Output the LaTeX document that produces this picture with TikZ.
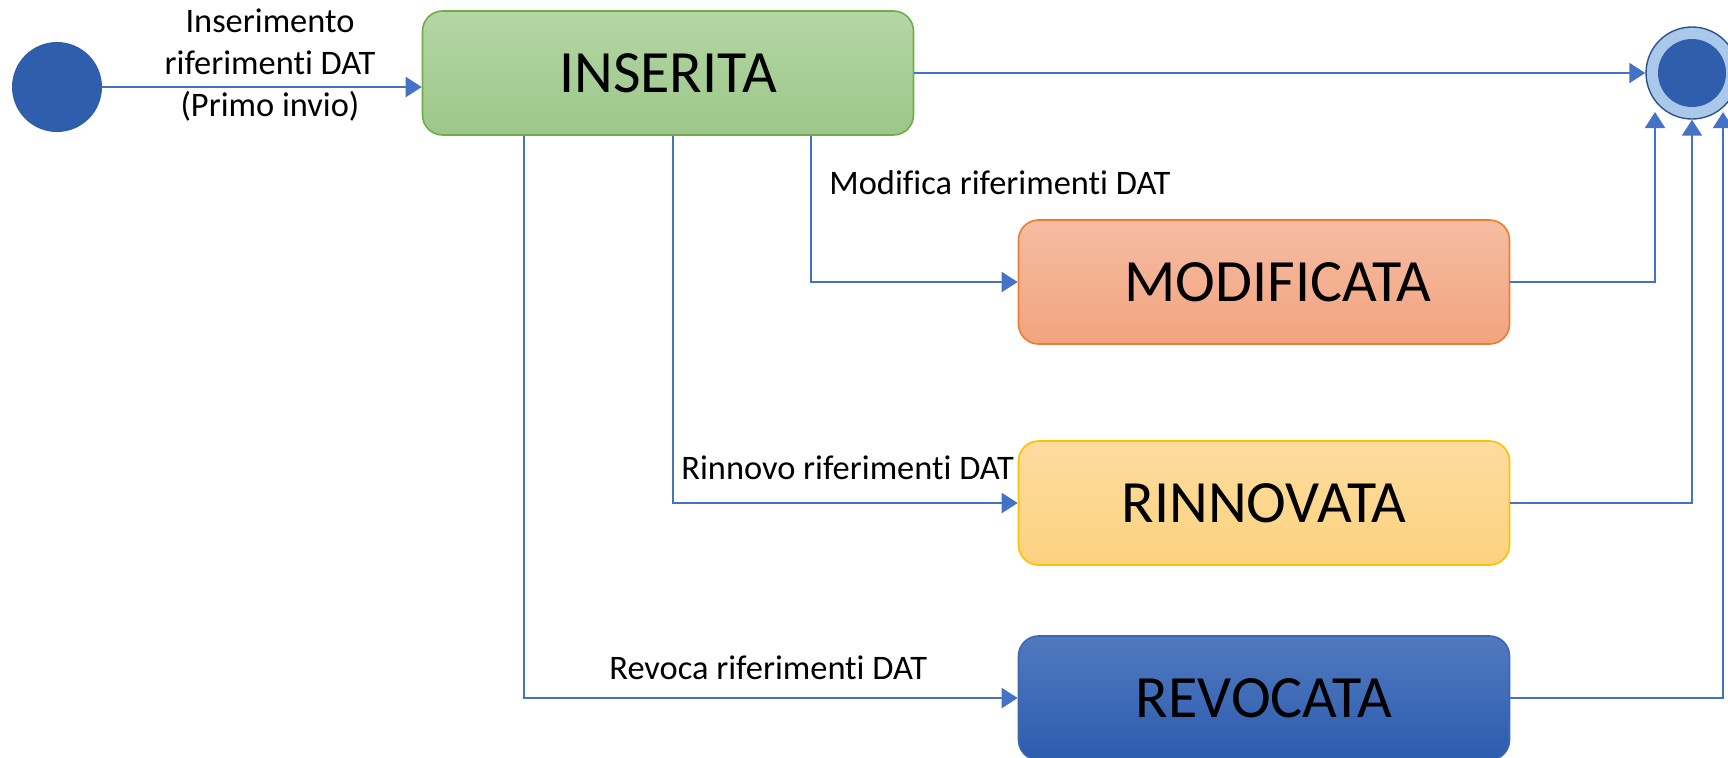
\documentclass[tikz,border=0pt]{standalone}
\usepackage{fontspec}
\setmainfont[Ligatures=NoCommon]{Carlito}
\usepackage{xcolor}
\usetikzlibrary{arrows.meta}

\definecolor{linea}{HTML}{4472C4}
\definecolor{avvio}{HTML}{2F5EAC}
\definecolor{verdesu}{HTML}{B4D6A4}
\definecolor{verdegiu}{HTML}{9CC78A}
\definecolor{verdebordo}{HTML}{70AD47}
\definecolor{arancsu}{HTML}{F5BCA3}
\definecolor{arancgiu}{HTML}{F2A47F}
\definecolor{arancbordo}{HTML}{ED7D31}
\definecolor{gialsu}{HTML}{FDDC9F}
\definecolor{gialgiu}{HTML}{FCD27F}
\definecolor{gialbordo}{HTML}{FFC000}
\definecolor{blusu}{HTML}{5179C0}
\definecolor{blugiu}{HTML}{2C5CAE}
\definecolor{blubordo}{HTML}{3D66B3}
\definecolor{anello}{HTML}{AAC8EA}
\definecolor{anellobordo}{HTML}{2F528F}

\begin{document}
\begin{tikzpicture}[x=0.5pt,y=-0.5pt,
    stato/.style={rectangle, rounded corners=10pt, minimum width=245.5pt,
      minimum height=62pt, line width=0.8pt, font=\fontsize{30}{36}\selectfont},
    flusso/.style={draw=linea, line width=1pt, -{Triangle[length=8pt,width=10pt]}},
    etichetta/.style={inner sep=0pt, font=\fontsize{17.2}{21}\selectfont, align=center}]
  \useasboundingbox (0,0) rectangle (1728,757);

  % stati
  \node[circle, fill=avvio, minimum size=45pt, inner sep=0pt] (inizio) at (57,87) {};
  \node[stato, draw=verdebordo, top color=verdesu, bottom color=verdegiu] (inserita) at (668,73) {INSERITA};
  \node[stato, draw=arancbordo, top color=arancsu, bottom color=arancgiu] (modificata) at (1264,282) {\hspace{14pt}MODIFICATA};
  \node[stato, draw=gialbordo, top color=gialsu, bottom color=gialgiu] (rinnovata) at (1264,503) {RINNOVATA};
  \node[stato, draw=blubordo, top color=blusu, bottom color=blugiu] (revocata) at (1264,698) {REVOCATA};
  \node[circle, draw=anellobordo, fill=anello, line width=0.7pt, minimum size=46pt, inner sep=0pt] (fine) at (1692,73) {};
  \node[circle, fill=avvio, minimum size=34pt, inner sep=0pt] (fineint) at (fine) {};

  % transizioni
  \draw[flusso] (inizio) -- (inizio -| inserita.west);
  \draw[flusso] (inserita.east) -- (fine.west);
  \draw[flusso] ([xshift=71.5pt]inserita.south) |- (modificata.west);
  \draw[flusso] ([xshift=2.5pt]inserita.south) |- (rinnovata.west);
  \draw[flusso] ([xshift=-72pt]inserita.south) |- (revocata.west);

  \coordinate (arrivo1) at (1655,112);
  \coordinate (arrivo3) at (1723,112);
  \draw[flusso] (modificata.east) -| (arrivo1);
  \draw[flusso] (rinnovata.east) -| (fine.south);
  \draw[flusso] (revocata.east) -| (arrivo3);

  % etichette
  \node[etichetta] (lblins) at (270,65) {Inserimento\\riferimenti DAT\\(Primo invio)};
  \node[etichetta, anchor=west] (lblmod) at (829,183) {Modifica riferimenti DAT};
  \node[etichetta, anchor=west] (lblrin) at (681,468) {Rinnovo riferimenti DAT};
  \node[etichetta, anchor=west] (lblrev) at (609,668) {Revoca riferimenti DAT};
\end{tikzpicture}
\end{document}
